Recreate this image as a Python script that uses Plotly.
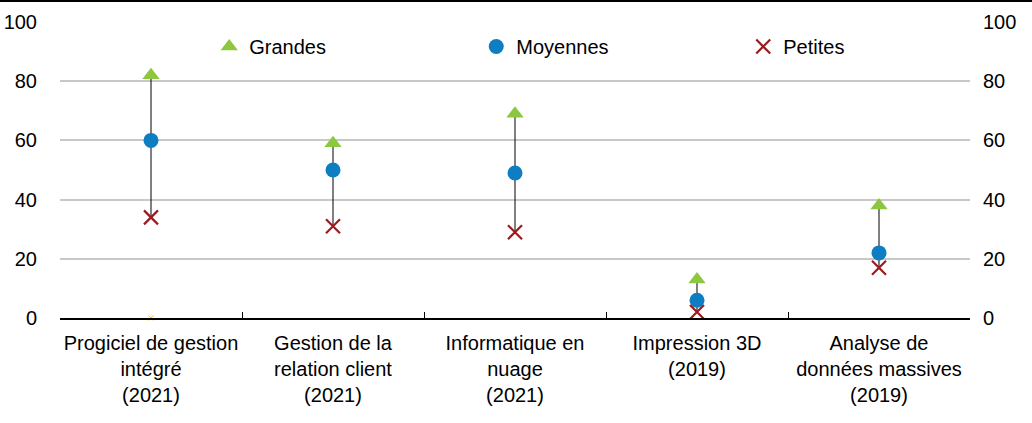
import plotly.graph_objects as go

categories = [
    "Progiciel de gestion<br>intégré<br>(2021)",
    "Gestion de la<br>relation client<br>(2021)",
    "Informatique en<br>nuage<br>(2021)",
    "Impression 3D<br>(2019)",
    "Analyse de<br>données massives<br>(2019)",
]
grandes = [82, 59, 69, 13, 38]
moyennes = [60, 50, 49, 6, 22]
petites = [34, 31, 29, 2, 17]
marker_extra_x = [categories[0]]
marker_extra_y = [0]
y_ticks = [0, 20, 40, 60, 80, 100]

FONT = "Liberation Sans, Arial, sans-serif"
fig = go.Figure()

# vertical range lines (min to max)
lx, ly = [], []
for c, g, m, p in zip(categories, grandes, moyennes, petites):
    vals = [g, m, p]
    lx += [c, c, None]
    ly += [min(vals), max(vals), None]
fig.add_trace(go.Scatter(x=lx, y=ly, mode="lines", line=dict(color="black", width=1),
                         showlegend=False, hoverinfo="skip", cliponaxis=False))

fig.add_trace(go.Scatter(x=marker_extra_x, y=marker_extra_y, mode="markers",
                         marker=dict(symbol="x-thin", size=5, line=dict(color="#FFC000", width=1), color="#FFC000"),
                         showlegend=False, cliponaxis=False))

fig.add_trace(go.Scatter(x=categories, y=grandes, mode="markers", name="Grandes",
                         marker=dict(symbol="triangle-up", size=15, color="#8DC63F"), cliponaxis=False))
fig.add_trace(go.Scatter(x=categories, y=moyennes, mode="markers", name="Moyennes",
                         marker=dict(symbol="circle", size=15, color="#0F7DC2"), cliponaxis=False))
fig.add_trace(go.Scatter(x=categories, y=petites, mode="markers", name="Petites",
                         marker=dict(symbol="x-thin", size=14, color="#9B1B1F",
                                     line=dict(color="#9B1B1F", width=2.2)), cliponaxis=False))
# invisible trace on right axis
fig.add_trace(go.Scatter(x=categories, y=grandes, yaxis="y2", mode="markers",
                         marker=dict(opacity=0), showlegend=False, hoverinfo="skip"))

fig.update_layout(
    width=1032, height=423,
    margin=dict(l=60, r=62, t=22, b=105),
    paper_bgcolor="white", plot_bgcolor="white",
    font=dict(family=FONT, size=20, color="black"),
    showlegend=True,
    legend=dict(orientation="h", x=0.164, y=0.917, xanchor="left", yanchor="middle",
                entrywidth=222, entrywidthmode="pixels", bgcolor="rgba(0,0,0,0)",
                font=dict(size=20), itemsizing="trace"),
    xaxis=dict(type="category", showgrid=False, showline=True, linecolor="black", linewidth=2,
               ticks="inside", tickson="boundaries", ticklen=6, tickcolor="black", automargin=False,
               tickangle=0, tickfont=dict(size=20), range=[-0.5, 4.5], ticklabelstandoff=6),
    yaxis=dict(range=[0, 100], tickvals=y_ticks, showgrid=True, gridcolor="#C8C8C8", gridwidth=2,
               zeroline=False, showline=False, ticks="", tickfont=dict(size=20),
               ticklabelstandoff=22, automargin=False),
    yaxis2=dict(range=[0, 100], tickvals=y_ticks, overlaying="y", side="right", showgrid=False,
                zeroline=False, showline=False, ticks="", tickfont=dict(size=20),
                ticklabelstandoff=12, automargin=False),
    shapes=[dict(type="line", xref="paper", yref="paper", x0=-60/910, x1=1+62/910,
                 y0=1+21/296, y1=1+21/296, line=dict(color="black", width=2))],
)

fig.write_html("out.html", config={"displayModeBar": False})
with open("out.html", "r", encoding="utf-8") as f:
    html = f.read()
html = html.replace("<body>", '<body style="margin:0;padding:0;overflow:hidden">', 1)
with open("out.html", "w", encoding="utf-8") as f:
    f.write(html)
